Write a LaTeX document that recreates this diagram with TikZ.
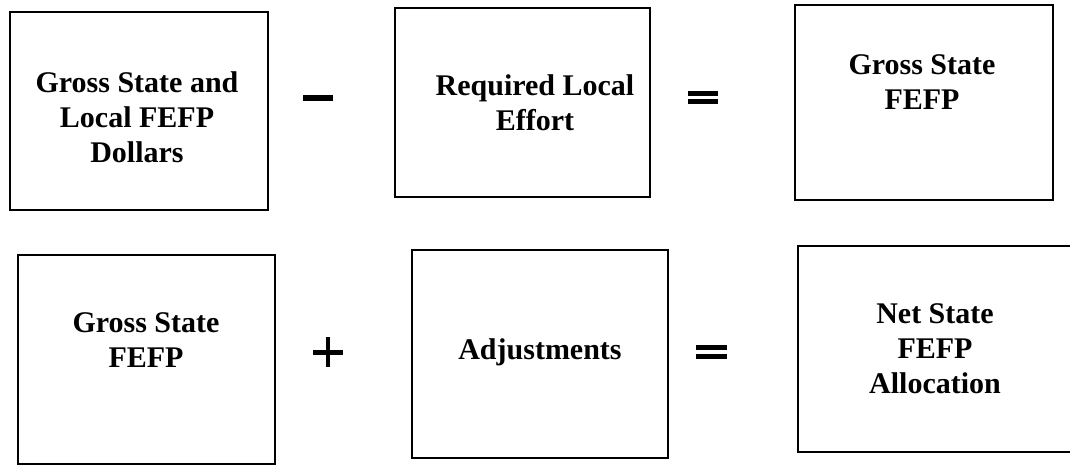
\documentclass[tikz,border=0pt]{standalone}
\usepackage{fontspec}
\setmainfont{Liberation Serif}
\begin{document}
\begin{tikzpicture}[x=1pt,y=-1pt,
  box/.style={draw=black,line width=2.6pt,rectangle,inner sep=0pt},
  lbl/.style={align=center,inner sep=0pt,font=\bfseries\fontsize{30}{35}\selectfont},
  bar/.style={fill=black}]
\useasboundingbox (0,0) rectangle (1070,465);
\clip (0,0) rectangle (1070,465);
% boxes
\node[box,minimum width=258pt,minimum height=198pt] (b1) at (139,111) {};
\node[box,minimum width=255pt,minimum height=189pt] (b2) at (522.5,102.5) {};
\node[box,minimum width=258pt,minimum height=195pt] (b3) at (924,102.5) {};
\node[box,minimum width=257pt,minimum height=209pt] (b4) at (146.5,359.5) {};
\node[box,minimum width=256pt,minimum height=208pt] (b5) at (540,354) {};
\node[box,minimum width=292pt,minimum height=206pt] (b6) at (944,349) {};
% texts
\node[lbl] (t1) at (137,117) {Gross State and\\Local FEFP\\Dollars};
\node[lbl] (t2) at (535,103) {Required Local\\Effort};
\node[lbl] (t3) at (922,82) {Gross State\\FEFP};
\node[lbl] (t4) at (146,340) {Gross State\\FEFP};
\node[lbl] (t5) at (540,352) {Adjustments};
\node[lbl] (t6) at (935,349) {Net State\\FEFP\\Allocation};
% operators
\fill[bar] (303,95) rectangle (333,101);          % minus
\fill[bar] (688,91) rectangle (718,96);           % equals top row
\fill[bar] (688,99.5) rectangle (718,104.5);
\fill[bar] (313,350) rectangle (343,354.5);       % plus
\fill[bar] (325.5,337) rectangle (329.5,367);
\fill[bar] (696,345) rectangle (727,350);         % equals bottom row
\fill[bar] (696,354) rectangle (727,359);
\end{tikzpicture}
\end{document}
